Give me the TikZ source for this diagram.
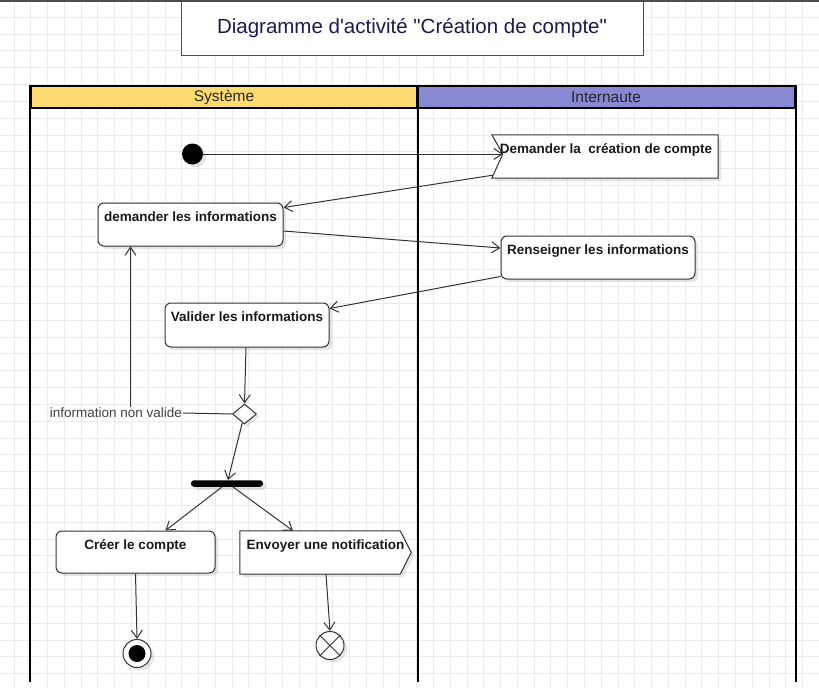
\documentclass[tikz,border=0pt]{standalone}
\usepackage{fontspec}
\setmainfont{Liberation Sans}[Ligatures=TeXOff]
\usetikzlibrary{arrows.meta,shadows,calc,shapes.geometric}
\definecolor{gridc}{HTML}{EBEBEB}
\definecolor{laneY}{HTML}{FFD966}
\definecolor{laneB}{HTML}{7E7ED0}
\definecolor{edgec}{HTML}{333333}
\definecolor{titlec}{HTML}{1A1A4E}
\begin{document}
\begin{tikzpicture}[x=1pt,y=-1pt,
  shad/.style={drop shadow={shadow xshift=3pt,shadow yshift=-3pt,opacity=0.10,fill=black}},
  actbox/.style={draw=edgec,fill=white,rounded corners=6pt,line width=1pt,inner sep=0pt,shad},
  frame/.style={inner sep=0pt},
  btxt/.style={font=\fontsize{13.5}{15}\selectfont\bfseries,inner sep=0pt,anchor=north,text=black!90},
  arr/.style={draw=edgec,line width=1pt,-{Straight Barb[length=8pt,width=11pt,line width=1pt]}},
  plain/.style={draw=edgec,line width=1pt},
  lanehead/.style={draw=black,line width=2pt,inner sep=0pt,font=\fontsize{15.5}{17}\selectfont,text=black!85},
  laneline/.style={draw=black,line width=2pt}
]
\useasboundingbox (0,0) rectangle (819,688);
\fill[white] (0,0) rectangle (819,688);
% grid
\foreach \i in {0,...,48} \draw[gridc,line width=1pt] ({14+16.78*\i},0) -- ({14+16.78*\i},688);
\foreach \j in {0,...,41} \draw[gridc,line width=1pt] (0,{0.5+16.83*\j}) -- (819,{0.5+16.83*\j});
\draw[black!70,line width=1.5pt] (0,0.75) -- (819,0.75);

% title
\node[draw=black!70,fill=white,line width=1pt,minimum width=462pt,minimum height=54pt,inner sep=0pt,
      font=\fontsize{20.5}{24}\selectfont,text=titlec] (title) at (412,28) {Diagramme d'activité "Création de compte"};

% lanes
\node[lanehead,fill=laneY,fill opacity=0.92,text opacity=1,minimum width=386pt,minimum height=22.5pt] (sys) at (224,97) {Système};
\node[lanehead,fill=laneB,fill opacity=0.92,text opacity=1,minimum width=378pt,minimum height=22.5pt] (int) at (606,97) {Internaute};
\draw[laneline] (sys.north west) -- ++(0,597);
\draw[laneline] (sys.north east) -- ++(0,597);
\draw[laneline] (int.north east) -- ++(0,597);

% initial node
\node[circle,fill=black,minimum size=21pt,inner sep=0pt,shad] (init) at (192.5,154) {};

% receive signal: Demander la creation de compte
\node[frame,minimum width=226pt,minimum height=43pt] (recv) at (605,156.5) {};
\coordinate (notch) at ($(recv.west)+(11,-2.5)$);
\draw[plain,fill=white,shad] (recv.north west) -- (recv.north east) -- (recv.south east) -- (recv.south west) -- (notch) -- cycle;
\node[btxt] at ($(recv.north)+(1,8.5)$) {Demander la \ création de compte};

% activities
\node[actbox,minimum width=185pt,minimum height=43pt] (dem) at (190.5,224.5) {};
\node[btxt] at ($(dem.north)+(0,9)$) {demander les informations};

\node[actbox,minimum width=194pt,minimum height=43pt] (ren) at (598,257.5) {};
\node[btxt] at ($(ren.north)+(0,9)$) {Renseigner les informations};

\node[actbox,minimum width=164pt,minimum height=44pt] (val) at (247,325) {};
\node[btxt] at ($(val.north)+(0,9)$) {Valider les informations};

% decision
\node[diamond,draw=edgec,fill=white,line width=1pt,minimum width=24pt,minimum height=20pt,inner sep=0pt,shad] (dia) at (244.5,414) {};
\node[font=\fontsize{13.5}{15}\selectfont,text=black!75,inner sep=1pt] (lbl) at (116,413) {information non valide};

% fork
\node[fill=black,rounded corners=3pt,minimum width=72pt,minimum height=6.5pt,inner sep=0pt,shad] (fork) at (227,483.5) {};

% creer / envoyer
\node[actbox,minimum width=159pt,minimum height=42pt] (creer) at (135.5,552) {};
\node[btxt] at ($(creer.north)+(0,8.5)$) {Créer le compte};

\node[frame,minimum width=171pt,minimum height=43pt] (env) at (325.5,552.5) {};
\draw[plain,fill=white,shad] (env.north west) -- ($(env.north east)+(-11,0)$) -- (env.east) -- ($(env.south east)+(-11,0)$) -- (env.south west) -- cycle;
\node[btxt] at ($(env.north)+(0,8.5)$) {Envoyer une notification};

% finals
\node[circle,draw=edgec,fill=white,line width=1pt,minimum size=28pt,inner sep=0pt,shad] (fin) at (137,653.5) {};
\fill[black] (fin.center) circle (8.5);
\node[circle,draw=edgec,fill=white,line width=1pt,minimum size=28pt,inner sep=0pt,shad] (ff) at (330,645.5) {};
\draw[plain] (ff.north west) -- (ff.south east);
\draw[plain] (ff.north east) -- (ff.south west);

% connectors
\draw[arr] (init.east) -- (notch);
\draw[arr] ($(recv.south west)+(1,-3)$) -- ($(dem.north east)+(0,5)$);
\draw[arr] ($(dem.east)+(0,6.5)$) -- ($(ren.west)+(0,-9.5)$);
\draw[arr] ($(ren.south west)+(0,-3)$) -- ($(val.north east)+(0,6)$);
\draw[arr] ($(val.south)+(-1,0)$) -- (dia.north);
\draw[plain] (dia.west) -- (lbl.east);
\coordinate (back) at ($(dem.south west)+(33,0)$);
\draw[arr] (lbl.north -| back) -- (back);
\draw[arr] (dia) -- ($(fork.north)+(1,0)$);
\draw[arr] ($(fork.south)+(-5,0)$) -- ($(creer.north)+(30,0)$);
\draw[arr] ($(fork.south)+(6,0)$) -- ($(env.north)+(-32.5,0)$);
\draw[arr] (creer.south) -- (fin.north);
\draw[arr] ($(env.south)+(0.5,0)$) -- (ff.north);
\end{tikzpicture}
\end{document}
